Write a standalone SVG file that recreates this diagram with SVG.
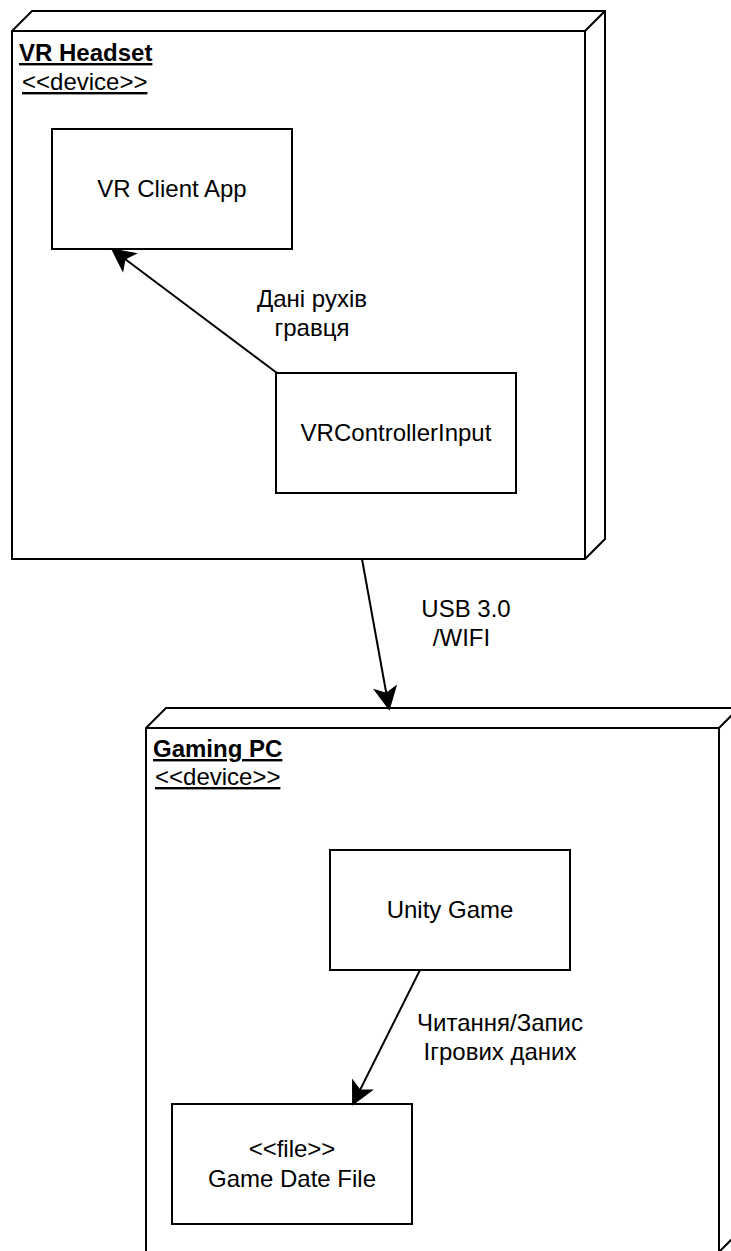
<svg xmlns="http://www.w3.org/2000/svg" width="731" height="1251" viewBox="0 0 731 1251">
<style>
  .shape { fill: #ffffff; stroke: #000000; stroke-width: 2; }
  .edge { fill: none; stroke: #000000; stroke-width: 2; }
  .line { fill: none; stroke: #000000; stroke-width: 2; }
  text { font-family: "Liberation Sans", Arial, Helvetica, sans-serif; font-size: 24px; fill: #000000; }
  .c { text-anchor: middle; }
  .title { font-weight: bold; text-decoration: underline; }
  .stereo { text-decoration: underline; }
</style>
<defs>
  <marker id="arrow" markerUnits="userSpaceOnUse" markerWidth="22" markerHeight="22" viewBox="0 0 20 20" refX="5" refY="10" orient="auto" overflow="visible">
    <path d="M0,0 L20,10 L0,20 L5,10 Z" fill="#000000" stroke="#000000" stroke-width="1"/>
  </marker>
</defs>
<rect x="0" y="0" width="731" height="1251" fill="#ffffff"/>

<g id="node-vr-headset">
  <path class="shape" d="M12,31 L32,11 L605,11 L605,539 L585,559 L12,559 Z"/>
  <path class="line" d="M12,31 L585,31 L605,11 M585,31 L585,559"/>
  <text class="title" x="19" y="61">VR Headset</text>
  <text class="stereo" x="22" y="90">&lt;&lt;device&gt;&gt;</text>
</g>

<g id="node-vr-client-app">
  <rect class="shape" x="52" y="129" width="240" height="120"/>
  <text class="c" x="172" y="197">VR Client App</text>
</g>

<g id="node-vrcontrollerinput">
  <rect class="shape" x="276" y="373" width="240" height="120"/>
  <text class="c" x="396" y="441">VRControllerInput</text>
</g>

<g id="node-gaming-pc">
  <path class="shape" d="M146,728 L166,708 L739,708 L739,1232 L719,1252 L146,1252 Z"/>
  <path class="line" d="M146,728 L719,728 L739,708 M719,728 L719,1252"/>
  <text class="title" x="153" y="757">Gaming PC</text>
  <text class="stereo" x="155" y="785">&lt;&lt;device&gt;&gt;</text>
</g>

<g id="node-unity-game">
  <rect class="shape" x="330" y="850" width="240" height="120"/>
  <text class="c" x="450" y="918">Unity Game</text>
</g>

<g id="node-game-date-file">
  <rect class="shape" x="172" y="1104" width="240" height="120"/>
  <text class="c" x="292" y="1157">&lt;&lt;file&gt;&gt;</text>
  <text class="c" x="292" y="1187">Game Date File</text>
</g>

<g id="connectors">
  <path class="edge" d="M277,373 L125,259" marker-end="url(#arrow)"/>
  <text class="c" x="312" y="307">Дані рухів</text>
  <text class="c" x="312" y="336">гравця</text>

  <path class="edge" d="M362,559 L386.3,693.2" marker-end="url(#arrow)"/>
  <text class="c" x="466" y="617">USB 3.0</text>
  <text class="c" x="461.5" y="646">/WIFI</text>

  <path class="edge" d="M420,970 L360,1090" marker-end="url(#arrow)"/>
  <text class="c" x="500" y="1031">Читання/Запис</text>
  <text class="c" x="500" y="1060">Ігрових даних</text>
</g>
</svg>
